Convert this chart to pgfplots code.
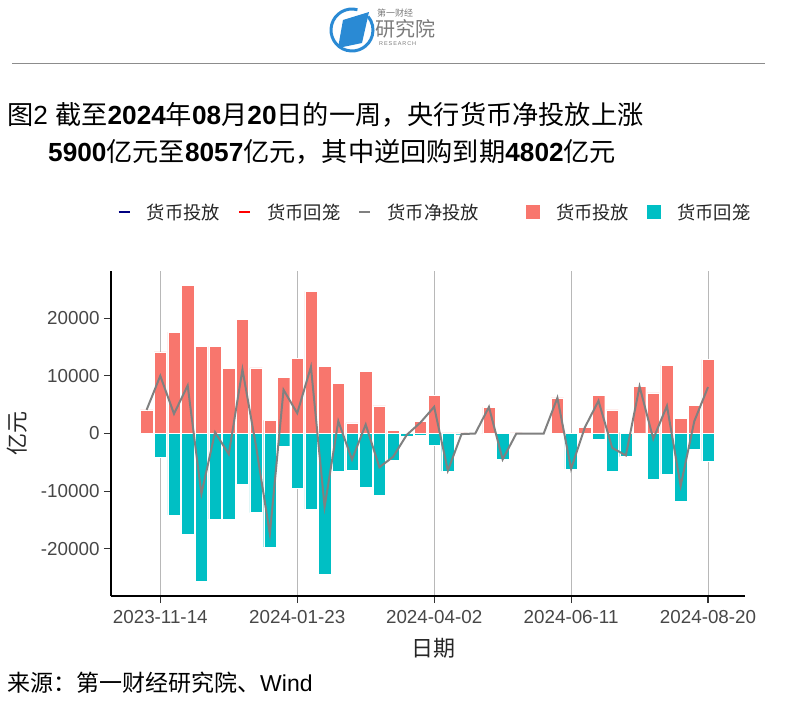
\documentclass[border=0pt]{standalone}
\usepackage{fontspec}
\setmainfont{Liberation Sans}
\newfontfamily\cjk{Noto Sans CJK SC}
\usepackage{pgfplots}
\pgfplotsset{compat=1.18}
\usepackage{pgfplotstable}
\definecolor{posc}{HTML}{F8766D}
\definecolor{negc}{HTML}{00BFC4}
\definecolor{netc}{HTML}{808080}
\definecolor{navyc}{HTML}{000080}
\definecolor{logob}{HTML}{2A8AD4}
\definecolor{logog}{HTML}{7A7A7A}
\pgfplotsset{
  lineleg/.style={legend image code/.code={\draw[##1] (0bp,0bp) -- (11bp,0bp);}},
  boxleg/.style={legend image code/.code={\fill[##1] (0bp,-7bp) rectangle (14bp,7bp);}},
}

\pgfplotstableread{
x pos neg net
0 4100 0 4100
1 14180 -4170 10010
2 17600 -14180 3420
3 25750 -17420 8330
4 15100 -25580 -10480
5 15100 -14870 230
6 11280 -14870 -3590
7 19850 -8740 11110
8 11400 -13710 -2310
9 2260 -19680 -17420
10 9720 -2140 7580
11 13080 -9550 3530
12 24650 -13080 11570
13 11690 -24420 -12730
14 8740 -6600 2140
15 1850 -6370 -4520
16 10820 -9260 1560
17 4800 -10650 -5850
18 580 -4630 -4050
19 250 -480 -230
20 2140 -230 1910
21 6600 -1970 4630
22 100 -6540 -6440
23 100 -200 -100
24 0 0 0
25 4600 0 4600
26 0 -4500 -4500
27 100 -100 0
28 0 0 0
29 0 0 0
30 6190 0 6190
31 0 -6130 -6130
32 1040 0 1040
33 6600 -930 5670
34 4110 -6600 -2490
35 200 -4000 -3800
36 8160 0 8160
37 7060 -7990 -930
38 11860 -7060 4800
39 2600 -11690 -9090
40 4920 -2763 2157
41 12859 -4802 8057
}\datatable

\begin{document}
\begin{tikzpicture}
\path[use as bounding box] (0,0) rectangle (809bp,-704bp);
% logo
\fill[logob] (343bp,-20bp) -- (369bp,-12bp) -- (362bp,-43bp) -- (338bp,-48bp) -- cycle;
\draw[logob, line width=3bp] (352bp,-30bp) ++(75:21bp) arc (75:400:21bp);
\node[anchor=west, text=logog, font=\cjk\fontsize{9bp}{10bp}\selectfont, inner sep=0pt] at (377bp,-13bp) {第一财经};
\node[anchor=west, text=logog, font=\cjk\fontsize{20bp}{22bp}\selectfont, inner sep=0pt] at (375bp,-29bp) {研究院};
\node[anchor=west, text=logog, font=\fontsize{5.5bp}{6bp}\selectfont, inner sep=0pt] at (379bp,-44bp) {R\,E\,S\,E\,A\,R\,C\,H};
\draw[black!45, line width=0.7bp] (12bp,-63bp) -- (765bp,-63bp);
% title
\node[anchor=west, inner sep=0pt, font=\fontsize{26.2bp}{29bp}\selectfont] at (7bp,-115bp)
 {{\cjk 图}2 {\cjk 截至}{\bfseries 2024}{\cjk 年}{\bfseries 08}{\cjk 月}{\bfseries 20}{\cjk 日的一周，央行货币净投放上涨}};
\node[anchor=west, inner sep=0pt, font=\fontsize{26.2bp}{29bp}\selectfont] at (48bp,-152bp)
 {{\bfseries 5900}{\cjk 亿元至}{\bfseries 8057}{\cjk 亿元，其中逆回购到期}{\bfseries 4802}{\cjk 亿元}};
% axis labels
\node[rotate=90, font=\cjk\fontsize{22bp}{24bp}\selectfont, text=black!85] at (17bp,-433bp) {亿元};
\node[font=\cjk\fontsize{22bp}{24bp}\selectfont, text=black!85] at (433bp,-648bp) {日期};
\node[anchor=west, inner sep=0pt, font=\fontsize{23bp}{25bp}\selectfont] at (7bp,-683bp) {{\cjk 来源：第一财经研究院、}Wind};

\begin{axis}[
  at={(111bp,-596bp)}, anchor=south west,
  scale only axis, width=634bp, height=325bp,
  xmin=-2.6, xmax=43.7, ymin=-28200, ymax=28200,
  axis lines=left, axis line style={-, line width=1.8bp, black},
  xtick={1,11,21,31,41},
  xticklabels={2023-11-14,2024-01-23,2024-04-02,2024-06-11,2024-08-20},
  ytick={-20000,-10000,0,10000,20000},
  scaled y ticks=false,
  yticklabel style={xshift=-1bp, /pgf/number format/.cd, fixed, 1000 sep={}},
  /pgf/number format/assume math mode=true,
  xmajorgrids, grid style={black!28, line width=0.9bp},
  tick align=outside, major tick length=7bp,
  tick style={black!80, line width=1.2bp},
  tick label style={font=\fontsize{18.8bp}{21bp}\selectfont, text=black!72},
  xticklabel style={yshift=-4bp},
  clip=false,
  legend columns=-1,
  legend style={at={(0.5095,1.1815)}, anchor=center, draw=none, fill=none,
    font=\cjk\fontsize{18.3bp}{20bp}\selectfont, text=black!85,
    /tikz/every odd column/.append style={column sep=16bp},
    /tikz/every even column/.append style={column sep=18bp},
    nodes={inner xsep=0bp}},
]
\addlegendimage{navyc, line width=2.2bp, lineleg}
\addlegendentry{货币投放}
\addlegendimage{red, line width=2.2bp, lineleg}
\addlegendentry{货币回笼}
\addlegendimage{netc, line width=2.2bp, lineleg}
\addlegendentry{货币净投放\rule{29bp}{0pt}}
\addlegendimage{fill=posc, draw=none, boxleg}
\addlegendentry{货币投放}
\addlegendimage{fill=negc, draw=none, boxleg}
\addlegendentry{货币回笼}

\addplot[ybar, bar width=0.9, bar shift=0pt, fill=posc, draw=white, line width=0.3bp, forget plot] table[x=x, y=pos] {\datatable};
\addplot[ybar, bar width=0.9, bar shift=0pt, fill=negc, draw=white, line width=0.3bp, forget plot] table[x=x, y=neg] {\datatable};
\addplot[netc, line width=2bp, mark=none, forget plot] table[x=x, y=net] {\datatable};
\end{axis}
\end{tikzpicture}
\end{document}
